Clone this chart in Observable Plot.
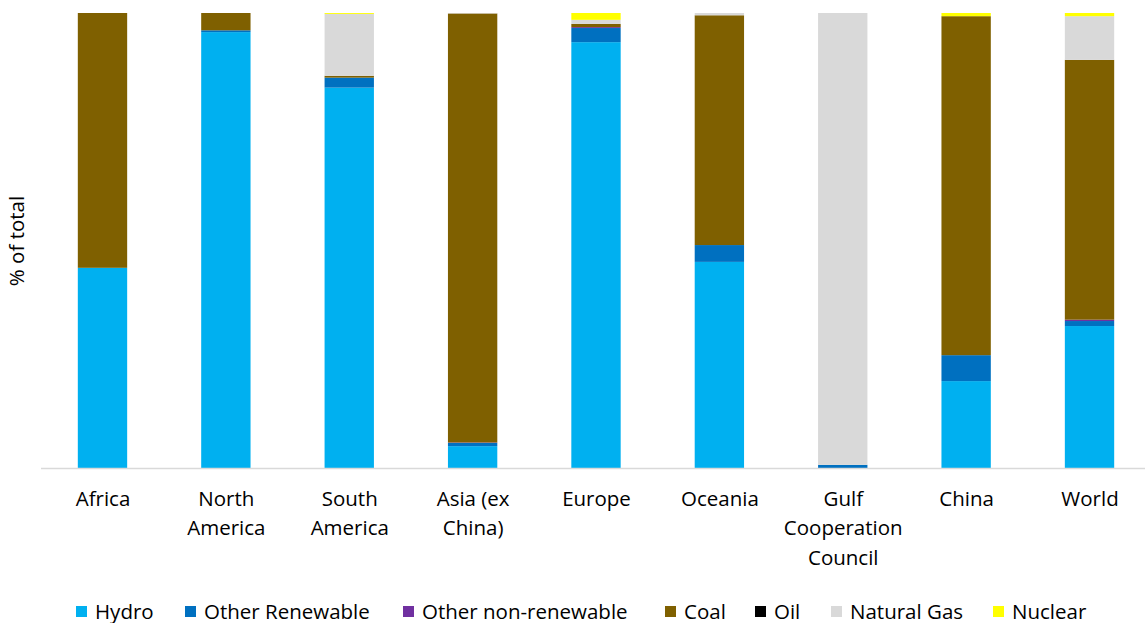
<!DOCTYPE html>
<html>
<head>
<meta charset="utf-8">
<script src="https://cdn.jsdelivr.net/npm/d3@7"></script>
<script src="https://cdn.jsdelivr.net/npm/@observablehq/plot@0.6"></script>
<style>
  html, body { margin: 0; padding: 0; background: #fff; }
  body { width: 1145px; font-family: "Open Sans", sans-serif; }
  #legend { position: relative; height: 30px; margin-top: 6px; font-size: 20.5px; color: #000; }
  .item { position: absolute; top: 0; display: flex; align-items: center; height: 30px; }
  .sw { width: 11px; height: 11px; margin-right: 8px; }
</style>
</head>
<body>
<div id="chart"></div>
<div id="legend"></div>
<script>
const categories = ["Africa", "North\nAmerica", "South\nAmerica", "Asia (ex\nChina)", "Europe", "Oceania", "Gulf\nCooperation\nCouncil", "China", "World"];
const sources = ["Hydro", "Other Renewable", "Other non-renewable", "Coal", "Oil", "Natural Gas", "Nuclear"];
const colors = ["#00B0F0", "#0070C0", "#7030A0", "#7F6000", "#000000", "#D9D9D9", "#FFFF00"];

// % of total, per category (same order as categories)
const hydro          = [44.0, 95.8, 83.6,  4.8, 93.5, 45.3,  0.0, 19.1, 31.2];
const otherRenewable = [ 0.0,  0.4,  2.2,  0.7,  3.1,  3.7,  0.7,  5.7,  1.1];
const otherNonRenew  = [ 0.0,  0.0,  0.0,  0.1,  0.2,  0.0,  0.0,  0.0,  0.3];
const coal           = [56.0,  3.8,  0.4, 94.3,  0.7, 50.5,  0.0, 74.5, 57.1];
const oil            = [ 0.0,  0.0,  0.0,  0.0,  0.0,  0.0,  0.0,  0.0,  0.0];
const naturalGas     = [ 0.0,  0.0, 13.6,  0.1,  0.9,  0.5, 99.3,  0.0,  9.6];
const nuclear        = [ 0.0,  0.0,  0.2,  0.0,  1.5,  0.0,  0.0,  0.7,  0.7];

const series = [hydro, otherRenewable, otherNonRenew, coal, oil, naturalGas, nuclear];
const rows = [];
categories.forEach((c, i) => {
  series.forEach((s, j) => rows.push({category: c, source: sources[j], value: s[i]}));
});

const W = 1145, H = 590;
const chart = Plot.plot({
  width: W,
  height: H,
  marginLeft: 41,
  marginRight: 0,
  marginTop: 13,
  marginBottom: H - 468,
  style: {fontFamily: "Open Sans, sans-serif", fontSize: "20px", color: "#000", overflow: "visible"},
  x: {domain: categories, range: [40.8, 1151.2], paddingInner: 0.6, paddingOuter: 0.3, round: false, label: null},
  y: {domain: [0, 1], label: null},
  color: {domain: sources, range: colors},
  marks: [
    Plot.barY(rows, Plot.stackY({offset: "normalize", order: null}, {x: "category", y: "value", fill: "source"})),
    Plot.ruleY([0], {stroke: "#D9D9D9", strokeWidth: 1.5}),
    Plot.axisX({tickSize: 0, tickPadding: 16, fontSize: 20.5, lineHeight: 1.45, fill: "#000", label: null}),
    Plot.axisY({ticks: [], tickSize: 0, label: "% of total", labelAnchor: "center", labelArrow: "none", labelOffset: 32, fontSize: 20.5, fill: "#000"})
  ]
});
document.getElementById("chart").appendChild(chart);

const legendPos = [76, 185, 403, 665, 755, 831, 993];
const legend = document.getElementById("legend");
sources.forEach((s, j) => {
  const it = document.createElement("div");
  it.className = "item";
  it.style.left = legendPos[j] + "px";
  const sw = document.createElement("span");
  sw.className = "sw";
  sw.style.background = colors[j];
  const t = document.createElement("span");
  t.textContent = s;
  it.appendChild(sw);
  it.appendChild(t);
  legend.appendChild(it);
});
</script>
</body>
</html>
